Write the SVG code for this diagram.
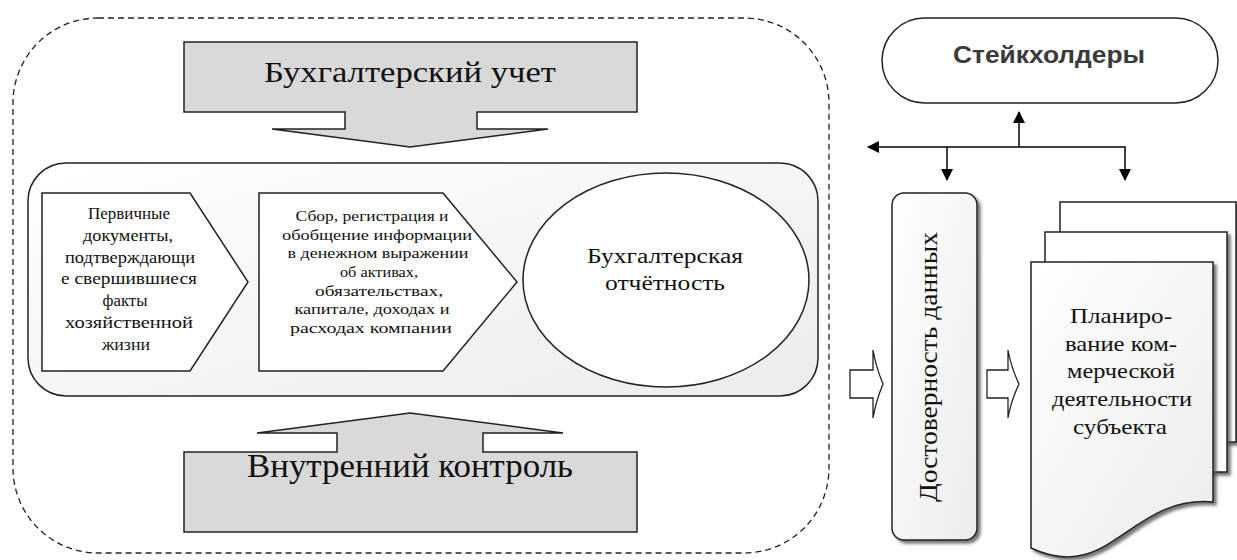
<svg xmlns="http://www.w3.org/2000/svg" width="1237" height="560" viewBox="0 0 1237 560">
<defs>
  <linearGradient id="soft" x1="0" y1="0" x2="1" y2="1">
    <stop offset="0" stop-color="#ffffff"/>
    <stop offset="1" stop-color="#ececec"/>
  </linearGradient>
  <filter id="shadow" x="-10%" y="-10%" width="130%" height="130%">
    <feDropShadow dx="3" dy="3" stdDeviation="1.5" flood-color="#555" flood-opacity="0.8"/>
  </filter>
  <marker id="ah" viewBox="0 0 12 12" refX="11" refY="6" markerWidth="12" markerHeight="12" markerUnits="userSpaceOnUse" orient="auto">
    <path d="M0,0 L12,6 L0,12 z" fill="#000"/>
  </marker>
  <style>
    .ser { fill: #111; text-anchor: middle; }
    .box { stroke: #222; stroke-width: 1.5; }
    .conn { stroke: #000; stroke-width: 1.5; fill: none; }
  </style>
</defs>
<rect width="1237" height="560" fill="#fff"/>

<g id="outer-frame">
  <rect x="13" y="18" width="816" height="535" rx="85" ry="85" fill="none" stroke="#222" stroke-width="1.3" stroke-dasharray="6 4"/>
</g>

<g font-family="'Liberation Serif', 'Times New Roman', serif">
<g id="buh-uchet">
  <path class="box" fill="#d9d9d9" d="M184,42 H637 V112 H477 V129 H548 L410,147 L272,129 H345 V112 H184 Z"/>
  <text class="ser" x="410" y="82" font-size="30" textLength="292" lengthAdjust="spacingAndGlyphs">Бухгалтерский учет</text>
</g>

<g id="process">
  <rect class="box" x="28" y="163" width="790" height="233" rx="38" ry="38" fill="url(#soft)"/>
</g>

<g id="primary-docs">
  <polygon class="box" fill="#fff" points="42,193 190,193 248,282 190,371 42,371"/>
  <g class="ser" font-size="17">
    <text x="129" y="219" textLength="82" lengthAdjust="spacingAndGlyphs">Первичные</text>
    <text x="128" y="241" textLength="90" lengthAdjust="spacingAndGlyphs">документы,</text>
    <text x="130" y="263" textLength="130" lengthAdjust="spacingAndGlyphs">подтверждающи</text>
    <text x="129" y="284" textLength="136" lengthAdjust="spacingAndGlyphs">е свершившиеся</text>
    <text x="125" y="306" textLength="45" lengthAdjust="spacingAndGlyphs">факты</text>
    <text x="129" y="328" textLength="128" lengthAdjust="spacingAndGlyphs">хозяйственной</text>
    <text x="126" y="350" textLength="48" lengthAdjust="spacingAndGlyphs">жизни</text>
  </g>
</g>

<g id="collection">
  <polygon class="box" fill="#fff" points="259,193 443,193 517,282 443,371 259,371"/>
  <g class="ser" font-size="15.5">
    <text x="372" y="221" textLength="153" lengthAdjust="spacingAndGlyphs">Сбор, регистрация и</text>
    <text x="377" y="240" textLength="190" lengthAdjust="spacingAndGlyphs">обобщение информации</text>
    <text x="378" y="258" textLength="181" lengthAdjust="spacingAndGlyphs">в денежном выражении</text>
    <text x="379" y="277" textLength="78" lengthAdjust="spacingAndGlyphs">об активах,</text>
    <text x="379" y="296" textLength="128" lengthAdjust="spacingAndGlyphs">обязательствах,</text>
    <text x="372" y="314" textLength="155" lengthAdjust="spacingAndGlyphs">капитале, доходах и</text>
    <text x="371" y="333" textLength="162" lengthAdjust="spacingAndGlyphs">расходах компании</text>
  </g>
</g>

<g id="reporting">
  <ellipse class="box" cx="666" cy="280" rx="143" ry="107" fill="#fff"/>
  <text class="ser" x="665" y="263" font-size="20" textLength="156" lengthAdjust="spacingAndGlyphs">Бухгалтерская</text>
  <text class="ser" x="665" y="290" font-size="20" textLength="120" lengthAdjust="spacingAndGlyphs">отчётность</text>
</g>

<g id="internal-control">
  <path class="box" fill="#d9d9d9" d="M184,532 H637 V452 H483 V433 H563 L410,413 L257,433 H337 V452 H184 Z"/>
  <text class="ser" x="410" y="477" font-size="33" textLength="326" lengthAdjust="spacingAndGlyphs">Внутренний контроль</text>
</g>

<g id="reliability">
  <rect class="box" x="892" y="193" width="85" height="347" rx="12" ry="12" fill="url(#soft)" filter="url(#shadow)"/>
  <text class="ser" transform="translate(937,367) rotate(-90)" x="0" y="0" font-size="26" textLength="270" lengthAdjust="spacingAndGlyphs">Достоверность данных</text>
</g>

<g id="planning">
  <rect class="box" x="1060" y="202" width="176" height="240" fill="#fff" filter="url(#shadow)"/>
  <rect class="box" x="1045" y="232" width="182" height="240" fill="#fff" filter="url(#shadow)"/>
  <path class="box" fill="url(#soft)" filter="url(#shadow)" d="M1031,262 H1213 V502 C1130,495 1110,585 1031,548 Z"/>
  <g class="ser" font-size="22">
    <text x="1121" y="323" textLength="102" lengthAdjust="spacingAndGlyphs">Планиро-</text>
    <text x="1121" y="351" textLength="112" lengthAdjust="spacingAndGlyphs">вание ком-</text>
    <text x="1121" y="378" textLength="108" lengthAdjust="spacingAndGlyphs">мерческой</text>
    <text x="1122" y="406" textLength="140" lengthAdjust="spacingAndGlyphs">деятельности</text>
    <text x="1120" y="434" textLength="94" lengthAdjust="spacingAndGlyphs">субъекта</text>
  </g>
</g>
</g>

<g id="stakeholders">
  <rect class="box" x="882" y="18" width="336" height="85" rx="42.5" ry="42.5" fill="#fff"/>
  <text x="1049" y="63" font-family="'Liberation Sans', Arial, sans-serif" font-weight="bold" font-size="23" fill="#3a3a3a" text-anchor="middle" textLength="192" lengthAdjust="spacingAndGlyphs">Стейкхолдеры</text>
</g>

<g id="connectors">
  <line class="conn" x1="1019" y1="147" x2="1019" y2="112" marker-end="url(#ah)"/>
  <line class="conn" x1="1125" y1="147" x2="868" y2="147" marker-end="url(#ah)"/>
  <line class="conn" x1="947" y1="147" x2="947" y2="180" marker-end="url(#ah)"/>
  <line class="conn" x1="1125" y1="146.25" x2="1125" y2="180" marker-end="url(#ah)"/>
  <path fill="#fff" stroke="#222" stroke-width="1.3" d="M850,370 H873 V350 Q876,367 883,384 Q876,401 873,418 V398 H850 Z"/>
  <path fill="#fff" stroke="#222" stroke-width="1.3" d="M987,370 H1008 V350 Q1011,367 1019,384 Q1011,401 1008,418 V398 H987 Z"/>
</g>
</svg>
